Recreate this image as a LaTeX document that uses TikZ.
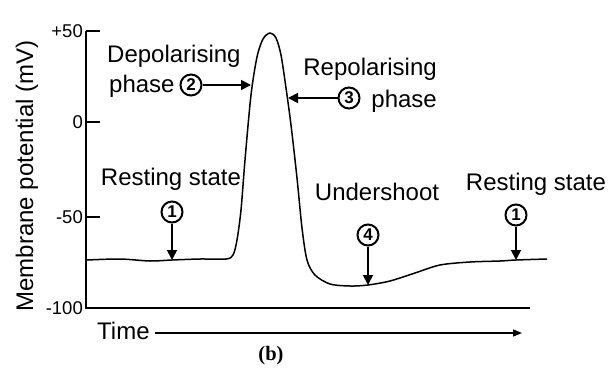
\documentclass[tikz,border=0pt]{standalone}
\usepackage{fontspec}
\setmainfont{Liberation Sans}
\newfontfamily\serifb{Liberation Serif}
\usetikzlibrary{arrows.meta}
\begin{document}
\begin{tikzpicture}[x=1pt,y=-1pt,
  lbl/.style={font=\fontsize{24}{26}\selectfont, inner sep=0pt},
  ticklbl/.style={font=\fontsize{18.5}{20}\selectfont, inner sep=0pt, anchor=east},
  num/.style={circle, draw, line width=2pt, minimum size=21pt, inner sep=0pt, font=\fontsize{17}{17}\selectfont\bfseries},
  pointer/.style={-{Triangle[length=10pt,width=10pt]}, line width=1.8pt},
  axis/.style={line width=2pt},
]
\useasboundingbox (0,0) rectangle (608,367);

% axes
\draw[axis] (86,31) -- (86,308) -- (530,308);
\foreach \yy/\tl in {31/+50,122/0,217/-50}{
  \draw[axis] (86,\yy) -- (100,\yy);
  \node[ticklbl] at (83,\yy) {\tl};
}
\node[ticklbl] at (83,308) {-100};

\node[lbl, rotate=90, anchor=base] (ylab) at (33,176) {Membrane potential (mV)};

% time axis
\node[lbl, anchor=base west] (time) at (97,339) {Time};
\coordinate (tstart) at (155,333);
\coordinate (tend) at (522,333);
\draw[-{Triangle[length=9pt,width=7pt]}, line width=1.5pt] (tstart) -- (tend);

\node[font=\serifb\bfseries\fontsize{20.5}{22}\selectfont, inner sep=0pt] (cap) at (271,356) {(b)};

% action potential curve
\draw[line width=1.5pt] plot[smooth, tension=0.5] coordinates {
 (87,260) (120,259) (150,261) (172,260) (200,259) (226,259)
 (233,255) (237,240) (241,210) (245,160) (251,95) (257,57) (263,39) (270,33)
 (276,38) (281,55) (286,88) (291,125) (297,178) (302,228) (307,260)
 (315,275) (330,284) (350,286) (368,285) (390,281) (415,273) (440,265)
 (470,262) (500,261) (516,260) (547,259)};

% targets on curve
\coordinate (t1) at (172,260);
\coordinate (t2) at (251,85);
\coordinate (t3) at (288,98);
\coordinate (t4) at (368,285);
\coordinate (t5) at (516,260);

% labels
\node[lbl, anchor=base] (rest1) at (171,185) {Resting state};
\node[num] (n1) at (172,212) {1};
\draw[pointer] (n1) -- (t1);

\node[lbl, anchor=base west] (depol) at (107,62) {Depolarising};
\node[lbl, anchor=base west] (dphase) at (109,92) {phase};
\node[num] (n2) at (191,85) {2};
\draw[pointer] (n2) -- (t2);

\node[lbl, anchor=base east] (repol) at (437,75) {Repolarising};
\node[lbl, anchor=base east] (rphase) at (437,107) {phase};
\node[num] (n3) at (349,98) {3};
\draw[pointer] (n3) -- (t3);

\node[lbl, anchor=base] (under) at (377,200) {Undershoot};
\node[num] (n4) at (368,235) {4};
\draw[pointer] (n4) -- (t4);

\node[lbl, anchor=base] (rest2) at (536,190) {Resting state};
\node[num] (n5) at (516,215) {1};
\draw[pointer] (n5) -- (t5);
\end{tikzpicture}
\end{document}
